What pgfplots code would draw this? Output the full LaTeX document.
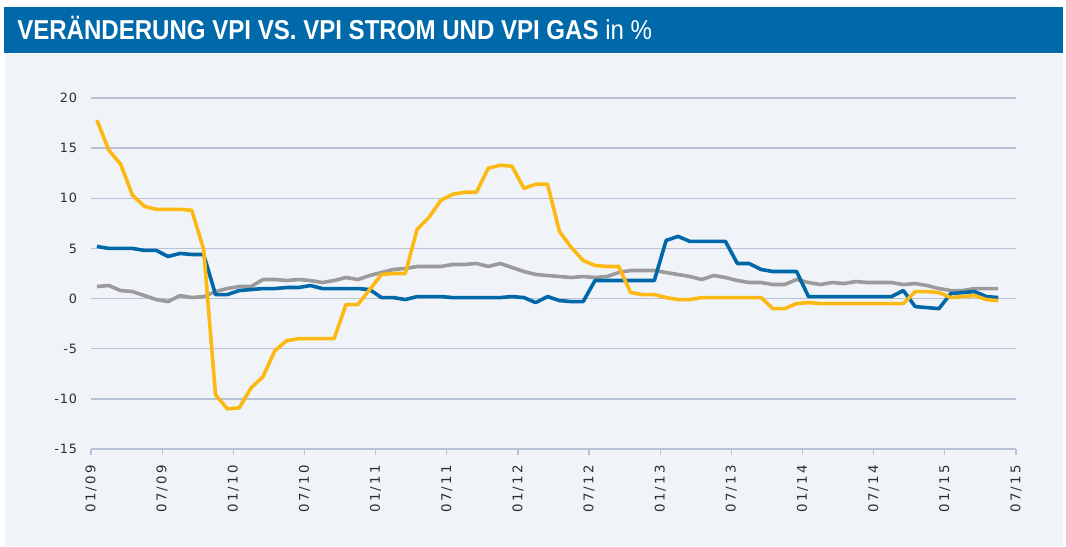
\documentclass[border=0pt]{standalone}
\usepackage{fontspec}
\usepackage{pgfplots}
\usepackage{pgfplotstable}
\pgfplotsset{compat=1.18}
\newfontfamily\titlefont[FakeStretch=0.88]{Liberation Sans}
\newfontfamily\tickfont[LetterSpace=18]{DejaVu Sans}
\newfontfamily\ytickfont[LetterSpace=7]{DejaVu Sans}
\definecolor{titleblue}{RGB}{0,105,170}
\definecolor{panelc}{RGB}{240,244,249}
\definecolor{gasc}{RGB}{253,185,19}
\definecolor{stromc}{RGB}{0,104,168}
\definecolor{vpic}{RGB}{155,155,155}
\definecolor{gridc}{RGB}{184,194,214}
\definecolor{tickc}{RGB}{45,45,45}

\pgfplotstableread{
x gas strom vpi
0.5 17.8 5.2 1.2
1.5 14.8 5.0 1.3
2.5 13.4 5.0 0.8
3.5 10.3 5.0 0.7
4.5 9.2 4.8 0.3
5.5 8.9 4.8 -0.1
6.5 8.9 4.2 -0.3
7.5 8.9 4.5 0.3
8.5 8.8 4.4 0.1
9.5 4.9 4.4 0.2
10.5 -9.6 0.4 0.7
11.5 -11.0 0.4 1.0
12.5 -10.9 0.8 1.2
13.5 -8.9 0.9 1.2
14.5 -7.8 1.0 1.9
15.5 -5.2 1.0 1.9
16.5 -4.2 1.1 1.8
17.5 -4.0 1.1 1.9
18.5 -4.0 1.3 1.8
19.5 -4.0 1.0 1.6
20.5 -4.0 1.0 1.8
21.5 -0.6 1.0 2.1
22.5 -0.6 1.0 1.9
23.5 0.9 0.9 2.3
24.5 2.4 0.1 2.6
25.5 2.5 0.1 2.9
26.5 2.5 -0.1 3.0
27.5 6.9 0.2 3.2
28.5 8.1 0.2 3.2
29.5 9.8 0.2 3.2
30.5 10.4 0.1 3.4
31.5 10.6 0.1 3.4
32.5 10.6 0.1 3.5
33.5 13.0 0.1 3.2
34.5 13.3 0.1 3.5
35.5 13.2 0.2 3.1
36.5 11.0 0.1 2.7
37.5 11.4 -0.4 2.4
38.5 11.4 0.2 2.3
39.5 6.7 -0.2 2.2
40.5 5.1 -0.3 2.1
41.5 3.8 -0.3 2.2
42.5 3.3 1.8 2.1
43.5 3.2 1.8 2.2
44.5 3.2 1.8 2.6
45.5 0.6 1.8 2.8
46.5 0.4 1.8 2.8
47.5 0.4 1.8 2.8
48.5 0.1 5.8 2.6
49.5 -0.1 6.2 2.4
50.5 -0.1 5.7 2.2
51.5 0.1 5.7 1.9
52.5 0.1 5.7 2.3
53.5 0.1 5.7 2.1
54.5 0.1 3.5 1.8
55.5 0.1 3.5 1.6
56.5 0.1 2.9 1.6
57.5 -1.0 2.7 1.4
58.5 -1.0 2.7 1.4
59.5 -0.5 2.7 1.9
60.5 -0.4 0.2 1.6
61.5 -0.5 0.2 1.4
62.5 -0.5 0.2 1.6
63.5 -0.5 0.2 1.5
64.5 -0.5 0.2 1.7
65.5 -0.5 0.2 1.6
66.5 -0.5 0.2 1.6
67.5 -0.5 0.2 1.6
68.5 -0.5 0.8 1.4
69.5 0.7 -0.8 1.5
70.5 0.7 -0.9 1.3
71.5 0.6 -1.0 1.0
72.5 0.1 0.5 0.8
73.5 0.2 0.6 0.8
74.5 0.3 0.7 1.0
75.5 -0.1 0.2 1.0
76.5 -0.2 0.1 1.0
}\data

\begin{document}
\begin{tikzpicture}
\useasboundingbox (0pt,0pt) rectangle (799.5pt,-409.5pt);
\fill[white] (0pt,0pt) rectangle (799.5pt,-409.5pt);
\fill[titleblue] (3pt,-5.25pt) rectangle (797.25pt,-39.5pt);
\fill[panelc] (3.75pt,-40.75pt) rectangle (797.25pt,-409.5pt);
\node[anchor=base west, inner sep=0pt, text=white,
  font=\titlefont\fontsize{20.5pt}{24pt}\selectfont]
  at (12.75pt,-29.25pt) {\bfseries VERÄNDERUNG VPI VS. VPI STROM UND VPI GAS\mdseries\ in \%};
\begin{axis}[
  at={(68.25pt,-336.75pt)}, anchor=south west,
  width=693.75pt, height=263.25pt, scale only axis,
  xmin=0, xmax=78, ymin=-15, ymax=20,
  separate axis lines,
  axis lines*=left,
  x axis line style={-, draw=gridc, line width=1.5pt},
  y axis line style={draw=none},
  xtick={0,6,...,78},
  xticklabels={01/09,07/09,01/10,07/10,01/11,07/11,01/12,07/12,01/13,07/13,01/14,07/14,01/15,07/15},
  ytick={-15,-10,...,20},
  xtick align=outside,
  major tick length=4.3pt,
  xtick style={draw=gridc, line width=0.9pt},
  ytick style={draw=none},
  ymajorgrids,
  major grid style={draw=gridc, line width=1.1pt},
  /pgf/number format/assume math mode=true,
  xticklabel style={font=\tickfont\fontsize{10pt}{12pt}\selectfont, text=tickc, rotate=90, anchor=east},
  xticklabel shift=4pt,
  yticklabel style={font=\ytickfont\fontsize{9.6pt}{11pt}\selectfont, text=tickc, xshift=-7pt},
  clip=false,
]
\addplot[vpic, line width=2.7pt, line join=round] table[x=x, y=vpi] {\data};
\addplot[stromc, line width=2.7pt, line join=round] table[x=x, y=strom] {\data};
\addplot[gasc, line width=2.7pt, line join=round] table[x=x, y=gas] {\data};
\end{axis}
\end{tikzpicture}
\end{document}
